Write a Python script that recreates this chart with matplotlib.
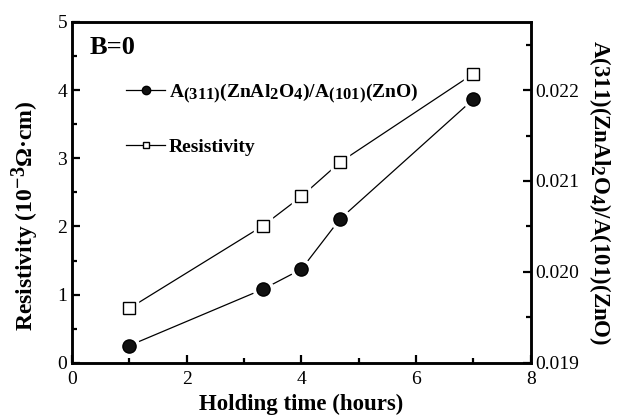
import numpy as np
import matplotlib
matplotlib.use('Agg')
from matplotlib import pyplot as plt
import matplotlib._mathtext as mt

mt.SHRINK_FACTOR = 0.85  # sub/superscripts nearly full size, like the original

plt.rcParams['font.family'] = 'Liberation Serif'
plt.rcParams['mathtext.fontset'] = 'custom'
plt.rcParams['mathtext.rm'] = 'Liberation Serif:bold'
plt.rcParams['mathtext.it'] = 'Liberation Serif:bold'
plt.rcParams['mathtext.bf'] = 'Liberation Serif:bold'

# data
hours = [1, 3.33, 4, 4.67, 7]
resistivity = [0.80, 2.01, 2.44, 2.94, 4.24]      # 10^-3 ohm cm
area_ratio = [0.01919, 0.01981, 0.02003, 0.02058, 0.0219]

fig = plt.figure(figsize=(6.26, 4.2), dpi=100)
ax = fig.add_axes([0.115, 0.136, 0.733, 0.812])
ax2 = ax.twinx()

def gapped(a, x, y, marker, face, size):
    # origin-style: line stops short of the symbols
    a.plot(x, y, '-', color='k', lw=0.9, zorder=1)
    a.plot(x, y, ls='none', marker=marker, ms=size + 5, mfc='white', mec='white', zorder=2)
    a.plot(x, y, ls='none', marker=marker, ms=size, mfc=face, mec='k', mew=1.0, zorder=3)

gapped(ax, hours, resistivity, 's', 'white', 8)
gapped(ax2, hours, area_ratio, 'o', '#111111', 9.5)

ax.set_xlim(0, 8)
ax.set_ylim(0, 5)
ax2.set_ylim(0.019, 0.02275)
ax.set_xticks([0, 2, 4, 6, 8])
ax.set_xticks([1, 3, 5, 7], minor=True)
ax.set_yticks([0, 1, 2, 3, 4, 5])
ax.set_yticks(np.arange(0.5, 5, 1), minor=True)
ax2.set_yticks([0.019, 0.020, 0.021, 0.022])
ax2.set_yticks([0.0195, 0.0205, 0.0215, 0.0225], minor=True)
ax2.set_yticklabels(['0.019', '0.020', '0.021', '0.022'])

for a in (ax, ax2):
    a.tick_params(which='major', direction='in', length=6, width=1.6, labelsize=14)
    a.tick_params(which='minor', direction='in', length=3.5, width=1.6)
    for s in a.spines.values():
        s.set_linewidth(1.8)
ax.tick_params(top=False, which='both')
ax.tick_params(axis='x', pad=6)

ax.set_xlabel('Holding time (hours)', fontsize=16.5, fontweight='bold', labelpad=4)
ax.set_ylabel('Resistivity (10$^{-3}$\u03a9\u00b7cm)', fontsize=17, fontweight='bold')
ax.yaxis.set_label_coords(-0.068, 0.43)
ax2.set_ylabel('A(311)(ZnAl$_2$O$_4$)/A(101)(ZnO)', fontsize=16.5, fontweight='bold',
               rotation=270, labelpad=24)

ax.text(0.3, 4.63, 'B=0', fontsize=19, fontweight='bold', va='center')

# legend
h1, = ax.plot([], [], '-', color='k', lw=0.9, marker='o', ms=6, mfc='#111111', mec='k')
h2, = ax.plot([], [], '-', color='k', lw=0.9, marker='s', ms=5, mfc='white', mec='k')
leg = ax.legend([h1, h2],
                [r'$\mathbf{A_{(311)}(ZnAl_2O_4)/A_{(101)}(ZnO)}$', 'Resistivity'],
                loc='upper left', bbox_to_anchor=(0.08, 0.877), frameon=False,
                prop={'size': 14, 'weight': 'bold'}, handlelength=2.0,
                handletextpad=0.2, labelspacing=1.7)

fig.savefig('out.png', dpi=100)
